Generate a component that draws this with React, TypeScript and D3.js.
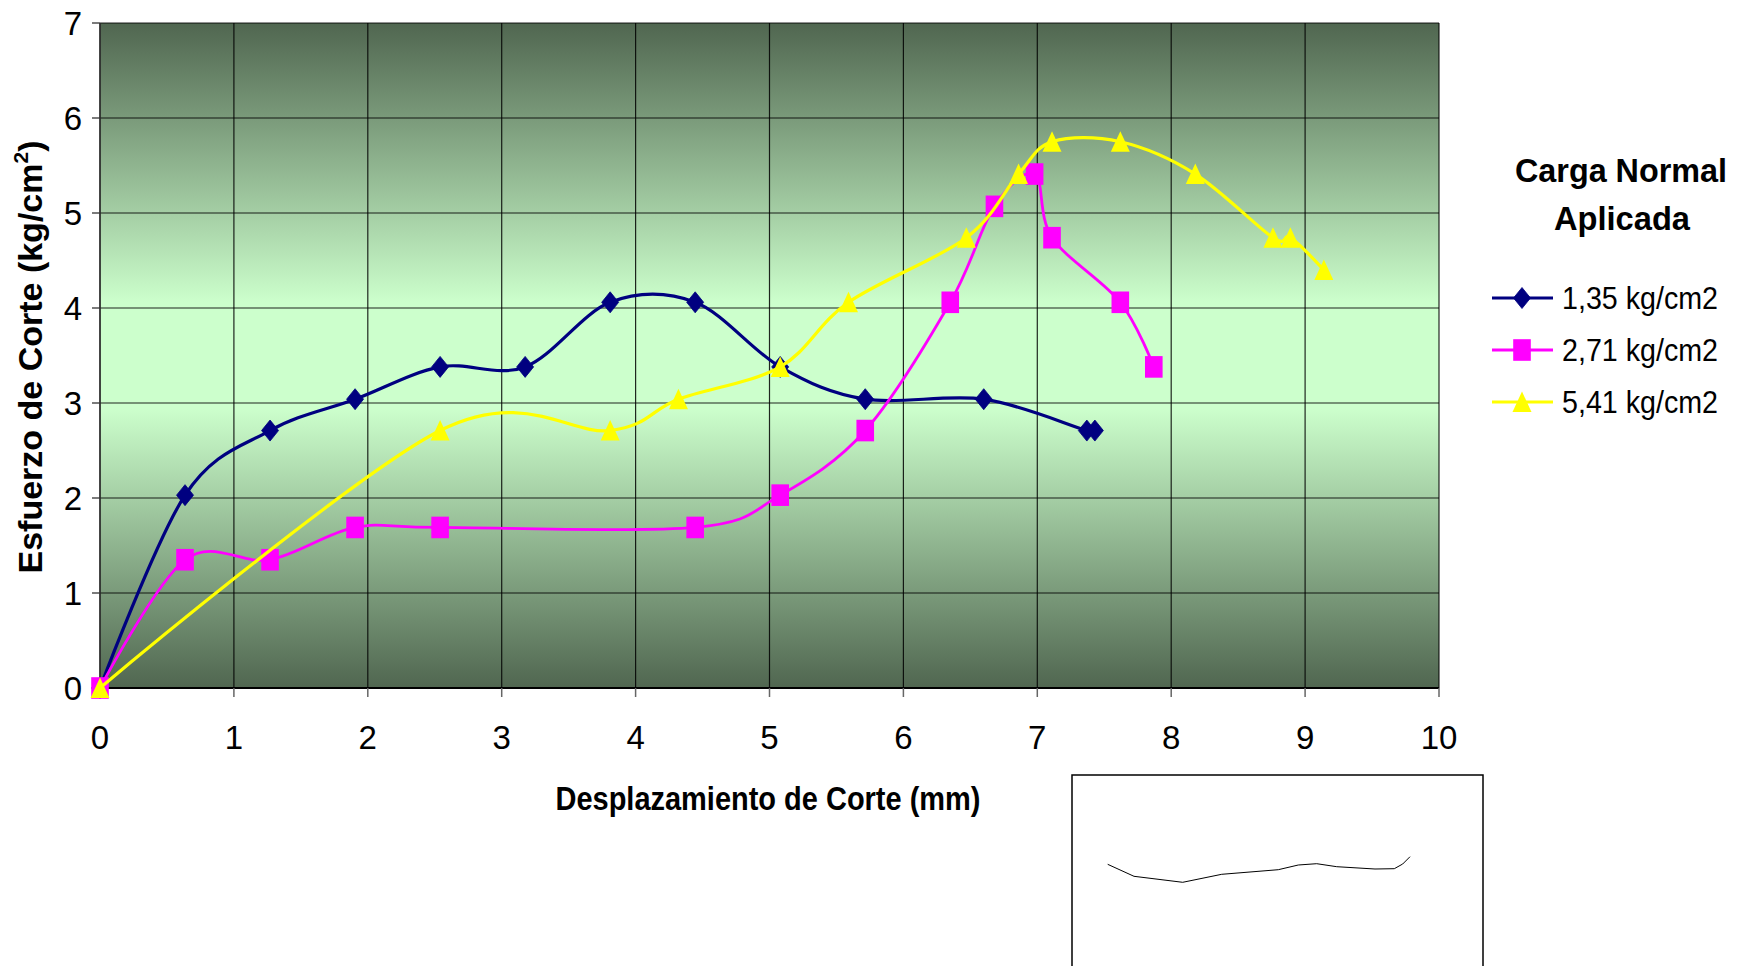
import React from 'react';
import * as d3 from 'd3';

// ---- data ----
const xTickValues = [0, 1, 2, 3, 4, 5, 6, 7, 8, 9, 10];
const yTickValues = [0, 1, 2, 3, 4, 5, 6, 7];
const seriesNames = ['1,35 kg/cm2', '2,71 kg/cm2', '5,41 kg/cm2'];

const s1x = [0, 0.635, 1.27, 1.905, 2.54, 3.175, 3.81, 4.445, 5.08, 5.715, 6.6, 7.37, 7.43];
const s1y = [0, 2.03, 2.71, 3.04, 3.38, 3.38, 4.06, 4.06, 3.38, 3.04, 3.04, 2.71, 2.71];

const s2x = [0, 0.635, 1.27, 1.905, 2.54, 4.445, 5.08, 5.715, 6.35, 6.68, 6.98, 7.11, 7.62, 7.87];
const s2y = [0, 1.35, 1.35, 1.69, 1.69, 1.69, 2.03, 2.71, 4.06, 5.07, 5.41, 4.74, 4.06, 3.38];

const s3x = [0, 2.54, 3.81, 4.32, 5.08, 5.59, 6.47, 6.86, 7.11, 7.62, 8.18, 8.76, 8.89, 9.14];
const s3y = [0, 2.71, 2.71, 3.04, 3.38, 4.06, 4.74, 5.41, 5.75, 5.75, 5.41, 4.74, 4.74, 4.4];

// stray sketch inside the box below the chart (box-relative pixels)
const sketchPoints: [number, number][] = [
  [35.7, 89.3], [62, 101.3], [110.7, 107.3], [149.7, 99.3], [206.3, 94.7], [226.3, 90],
  [244.7, 88.7], [264.7, 91.7], [303, 94], [322.3, 93.7], [330.7, 89], [338, 81.7],
];

// ---- layout ----
const W = 1745;
const H = 966;
const L = 100, R = 1439, T = 23, B = 688;
const FONT = '"Liberation Sans", Arial, sans-serif';

const colors = ['#000080', '#FF00FF', '#FFFF00'];
const shapes = ['diamond', 'square', 'triangle'];

function Marker({ shape, x, y, color }: { shape: string; x: number; y: number; color: string }) {
  if (shape === 'diamond') {
    return <path d={`M${x},${y - 10.5} L${x + 8.5},${y} L${x},${y + 10.5} L${x - 8.5},${y} Z`} fill={color} stroke={color} strokeWidth={0.8} />;
  }
  if (shape === 'square') {
    return <rect x={x - 8.8} y={y - 10.8} width={17.6} height={21.6} fill={color} />;
  }
  return <path d={`M${x},${y - 10.5} L${x + 9.5},${y + 10} L${x - 9.5},${y + 10} Z`} fill={color} />;
}

export default function App() {
  const xs = d3.scaleLinear().domain([0, 10]).range([L, R]);
  const ys = d3.scaleLinear().domain([0, 7]).range([B, T]);

  const series = [
    { name: seriesNames[0], xv: s1x, yv: s1y },
    { name: seriesNames[1], xv: s2x, yv: s2y },
    { name: seriesNames[2], xv: s3x, yv: s3y },
  ];

  const line = d3
    .line<[number, number]>()
    .x((d) => xs(d[0]))
    .y((d) => ys(d[1]))
    .curve(d3.curveCardinal.tension(0));

  const sketchLine = d3.line<[number, number]>().x((d) => 1072 + d[0]).y((d) => 775 + d[1]);

  const legendRows = [298, 350, 402];

  return (
    <svg width={W} height={H} style={{ position: 'absolute', left: 0, top: 0, background: '#fff' }} fontFamily={FONT}>
      <defs>
        <linearGradient id="bg" x1="0" y1="0" x2="0" y2="1">
          <stop offset="0" stopColor="#506650" />
          <stop offset="0.42" stopColor="#CCFFCC" />
          <stop offset="0.58" stopColor="#CCFFCC" />
          <stop offset="1" stopColor="#506650" />
        </linearGradient>
      </defs>

      {/* plot background */}
      <rect x={L} y={T} width={R - L} height={B - T} fill="url(#bg)" />

      {/* gridlines */}
      {xTickValues.map((v) => (
        <line key={'gx' + v} x1={xs(v)} x2={xs(v)} y1={T} y2={B} stroke="#000" strokeOpacity={0.85} strokeWidth={1.2} />
      ))}
      {yTickValues.map((v) => (
        <line key={'gy' + v} x1={L} x2={R} y1={ys(v)} y2={ys(v)} stroke="#000" strokeOpacity={0.85} strokeWidth={1.2} />
      ))}
      {/* axes */}
      <line x1={L} x2={L} y1={T} y2={B} stroke="#333" strokeWidth={1.5} />
      <line x1={L} x2={R} y1={B} y2={B} stroke="#000" strokeWidth={2} />
      {xTickValues.map((v) => (
        <line key={'tx' + v} x1={xs(v)} x2={xs(v)} y1={B} y2={B + 9} stroke="#666" strokeWidth={1.5} />
      ))}
      {yTickValues.map((v) => (
        <line key={'ty' + v} x1={L - 8} x2={L} y1={ys(v)} y2={ys(v)} stroke="#333" strokeWidth={1.3} />
      ))}

      {/* tick labels */}
      {xTickValues.map((v) => (
        <text key={'lx' + v} x={xs(v)} y={749} textAnchor="middle" fontSize={33} fill="#000">
          {v}
        </text>
      ))}
      {yTickValues.map((v) => (
        <text key={'ly' + v} x={82} y={ys(v) + 12} textAnchor="end" fontSize={33} fill="#000">
          {v}
        </text>
      ))}

      {/* series */}
      {series.map((s, i) => {
        const pts: [number, number][] = s.xv.map((x, j) => [x, s.yv[j]]);
        return (
          <g key={s.name}>
            <path d={line(pts) || ''} fill="none" stroke={colors[i]} strokeWidth={i === 1 ? 2.8 : 3.2} />
            {pts.map((p, j) => (
              <Marker key={j} shape={shapes[i]} x={xs(p[0])} y={ys(p[1])} color={colors[i]} />
            ))}
          </g>
        );
      })}

      {/* axis titles */}
      <text x={768} y={810} textAnchor="middle" fontSize={33} fontWeight="bold" textLength={425} lengthAdjust="spacingAndGlyphs">
        Desplazamiento de Corte (mm)
      </text>
      <text transform="translate(42,357) rotate(-90)" textAnchor="middle" fontSize={34} fontWeight="bold">
        Esfuerzo de Corte (kg/cm
        <tspan fontSize={21} dy={-14}>2</tspan>
        <tspan dy={14}>)</tspan>
      </text>

      {/* legend */}
      <text x={1621} y={182} textAnchor="middle" fontSize={34} fontWeight="bold" textLength={212} lengthAdjust="spacingAndGlyphs">
        Carga Normal
      </text>
      <text x={1622} y={230} textAnchor="middle" fontSize={34} fontWeight="bold" textLength={136} lengthAdjust="spacingAndGlyphs">
        Aplicada
      </text>
      {series.map((s, i) => (
        <g key={'leg' + i}>
          <line x1={1492} x2={1553} y1={legendRows[i]} y2={legendRows[i]} stroke={colors[i]} strokeWidth={3} />
          <Marker shape={shapes[i]} x={1522} y={legendRows[i]} color={colors[i]} />
          <text x={1562} y={legendRows[i] + 11} fontSize={31} textLength={156} lengthAdjust="spacingAndGlyphs" fill="#000">
            {s.name}
          </text>
        </g>
      ))}

      {/* stray box with sketch */}
      <rect x={1072} y={775} width={411} height={220} fill="#fff" stroke="#000" strokeWidth={1.5} />
      <path d={sketchLine(sketchPoints) || ''} fill="none" stroke="#000" strokeWidth={1} />
    </svg>
  );
}
